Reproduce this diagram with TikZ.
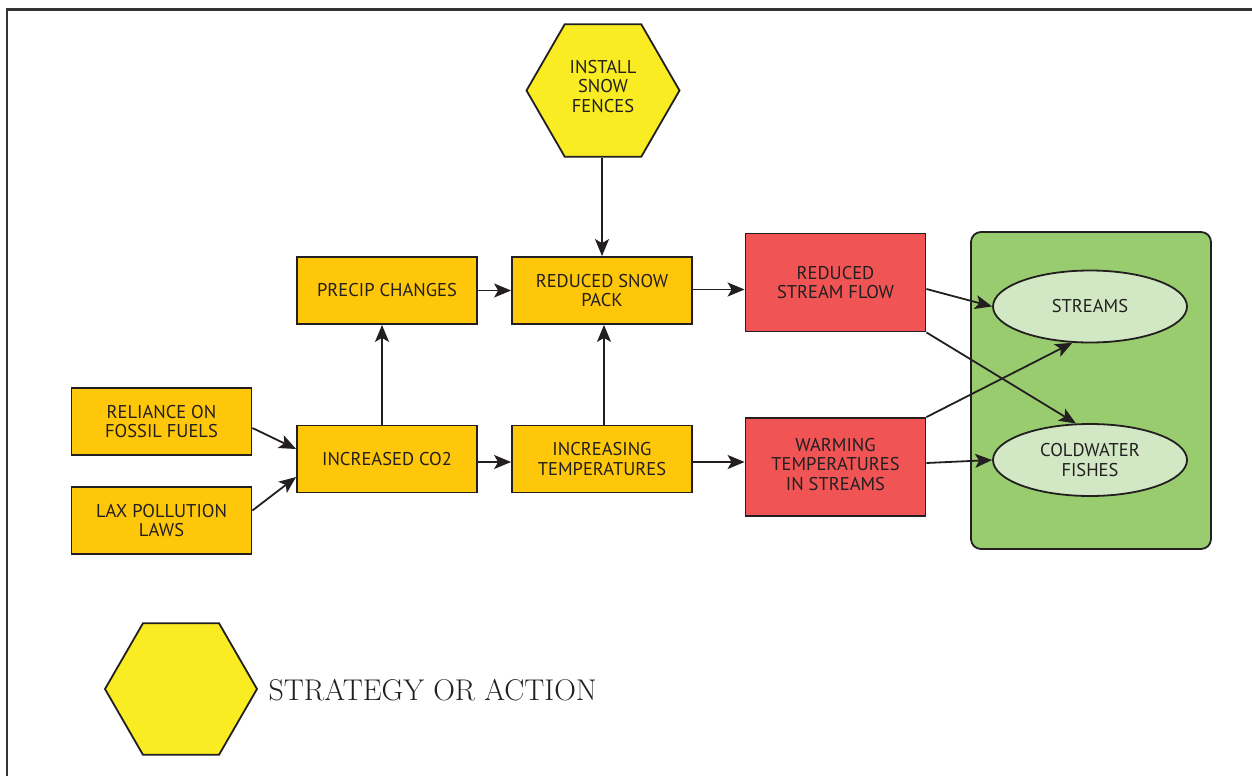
\documentclass[tikz,border=0pt]{standalone}
\usepackage{fontspec}
\newfontfamily\boxfont{PT Sans}
\usetikzlibrary{shapes.geometric,arrows.meta,calc}
\definecolor{orangebox}{HTML}{FFC709}
\definecolor{redbox}{HTML}{F05455}
\definecolor{hexyellow}{HTML}{F9EC23}
\definecolor{groupgreen}{HTML}{99CC6F}
\definecolor{ellgreen}{HTML}{D2E8C4}
\definecolor{ink}{HTML}{231F20}
\definecolor{framegray}{HTML}{333333}
\begin{document}
\begin{tikzpicture}[x=1pt,y=-1pt,
  every node/.style={font=\boxfont\fontsize{18.5}{19.5}\selectfont, text=ink, align=center},
  box/.style={draw=ink, line width=1.8pt, rectangle, minimum width=180pt, minimum height=67pt, inner sep=0pt},
  orangebx/.style={box, fill=orangebox},
  redbx/.style={box, fill=redbox, minimum height=98pt},
  hexa/.style={regular polygon, regular polygon sides=6, draw=ink, line width=1.8pt, fill=hexyellow, minimum size=153pt, inner sep=0pt},
  ell/.style={ellipse, draw=ink, line width=1.8pt, fill=ellgreen, minimum width=194pt, minimum height=72pt, inner sep=0pt},
  conn/.style={draw=ink, line width=1.8pt, -{Stealth[length=17pt,width=14pt,inset=4pt]}}
]
\useasboundingbox (0,0) rectangle (1252,776);
% frame (top and left edges)
\draw[framegray, line width=2.5pt] (7,776) -- (7,9.5) -- (1252,9.5);

% group
\node[draw=ink, line width=1.8pt, fill=groupgreen, rounded corners=10pt, minimum width=240pt, minimum height=317pt] (group) at (1091,390.5) {};

% nodes
\node[hexa] (fences) at (603,90.5) {\raisebox{-2.5pt}[0pt][0pt]{\begin{tabular}{@{}c@{}}INSTALL\\SNOW\\FENCES\end{tabular}}};
\node[orangebx] (fossil) at (161.5,421.5) {RELIANCE ON\\FOSSIL FUELS};
\node[orangebx] (lax) at (161.5,520.5) {LAX POLLUTION\\LAWS};
\node[orangebx] (co2) at (387,459) {INCREASED CO2};
\node[orangebx] (precip) at (387,290.5) {PRECIP CHANGES};
\node[orangebx] (snow) at (602,290.5) {REDUCED SNOW\\PACK};
\node[orangebx] (temp) at (602,459) {INCREASING\\TEMPERATURES};
\node[redbx] (flow) at (835.5,282.5) {REDUCED\\STREAM FLOW};
\node[redbx] (warm) at (835.5,467) {\raisebox{-4pt}[0pt][0pt]{\begin{tabular}{@{}c@{}}WARMING\\TEMPERATURES\\IN STREAMS\end{tabular}}};
\node[ell] (streams) at (1090,306.5) {STREAMS};
\node[ell] (fishes) at (1090,460) {COLDWATER\\FISHES};

% legend
\node[hexa, minimum size=152pt] (leghex) at (181,689) {};
\node[anchor=base west, font=\rmfamily\fontsize{30}{30}\selectfont] (legtext) at (265,700) {STRATEGY OR ACTION};

% connectors
\draw[conn] ([yshift=-6.5pt]fossil.east) -- ([yshift=10pt]co2.west);
\draw[conn] ([yshift=10pt]lax.east) -- ([yshift=-18pt]co2.west);
\draw[conn] ([yshift=-3pt]co2.east) -- ([yshift=-3pt]temp.west);
\draw[conn] ([yshift=-3pt]temp.east) -- ([yshift=-3pt]temp.east -| warm.west);
\draw[conn] ([xshift=-5pt]co2.north) -- ([xshift=-5pt]precip.south);
\draw[conn] ([xshift=2pt]temp.north) -- ([xshift=2pt]snow.south);
\draw[conn] (precip.east) -- (snow.west);
\draw[conn] ([yshift=1pt]snow.east) -- ([yshift=1pt]snow.east -| flow.west);
\draw[conn] (fences.south -| snow.north) -- (snow.north);
\draw[conn] ([yshift=-6.5pt]flow.east) -- (streams.west);
\draw[conn] (flow.south east) -- (fishes.111);
\draw[conn] (warm.north east) -- (streams.244);
\draw[conn] ([yshift=4pt]warm.east) -- (fishes.west);
\end{tikzpicture}
\end{document}
